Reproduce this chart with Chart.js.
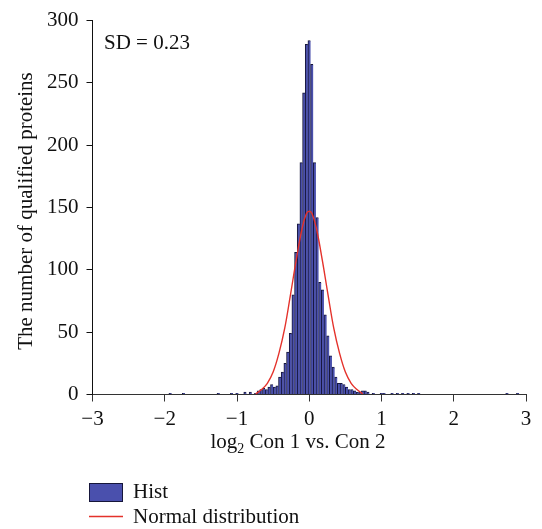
<!DOCTYPE html>
<html>
<head>
<meta charset="utf-8">
<script src="https://cdn.jsdelivr.net/npm/chart.js@4.4.1/dist/chart.umd.min.js"></script>
<style>
  html, body { margin: 0; padding: 0; background: #fff; }
  #wrap { width: 542px; height: 529px; position: relative; }
</style>
</head>
<body>
<div id="wrap"><canvas id="myChart"></canvas></div>
<script>
// histogram bins (centre of each bin, log2 ratio) and protein counts
const binCenters = [
  -1.924, -1.739, -1.258, -1.073, -0.999, -0.888, -0.814,
  -0.740, -0.703, -0.666, -0.629, -0.592, -0.555, -0.518, -0.481, -0.444,
  -0.407, -0.370, -0.333, -0.296, -0.259, -0.222, -0.185, -0.148, -0.111,
  -0.074, -0.037, 0, 0.037, 0.074, 0.111, 0.148, 0.185, 0.222, 0.259,
  0.296, 0.333, 0.370, 0.407, 0.444, 0.481, 0.518, 0.555, 0.592, 0.629,
  0.666, 0.703, 0.740, 0.777, 0.814, 0.888, 0.999, 1.036, 1.147, 1.221,
  1.295, 1.369, 1.443, 1.517, 2.738, 2.886
];
const binCounts = [
  1, 1, 1, 1, 1, 2, 2,
  1, 3, 4, 5, 4, 6, 8, 6, 7,
  14, 18, 25, 34, 49, 80, 114, 137, 186,
  242, 281, 284, 265, 186, 142, 90, 84, 64, 47,
  31, 22, 14, 9, 9, 8, 6, 4, 4, 3,
  2, 2, 3, 3, 2, 1, 1, 1, 1, 1,
  1, 1, 1, 1, 1, 1
];

// fitted normal curve
const curveX = [-0.74, -0.66, -0.58, -0.50, -0.42, -0.34, -0.26, -0.18, -0.10, -0.04, 0,
                0.04, 0.10, 0.18, 0.26, 0.34, 0.42, 0.50, 0.58, 0.66, 0.74];
const curveY = [0.5, 4, 9, 18, 33, 53, 80, 108, 133, 145, 147,
                145, 133, 108, 80, 53, 33, 18, 9, 4, 0.5];

const sdLabel = 'SD = 0.23';
const yTitle = 'The number of qualified proteins';
const legendLabels = ['Hist', 'Normal distribution'];

const FONT = '"Liberation Serif", "Times New Roman", serif';
const FS = 21;
const barFill = '#4a50ad';
const barEdge = '#16163a';
const curveColor = '#e4322b';

const extras = {
  id: 'extras',
  afterDraw(chart) {
    const c = chart.ctx;
    c.save();
    c.fillStyle = '#111';
    c.font = FS + 'px ' + FONT;
    c.textAlign = 'left';
    c.textBaseline = 'alphabetic';
    c.fillText(sdLabel, 104, 49);

    // x title with subscript
    const a = 'log', sub = '2', b = ' Con 1 vs. Con 2';
    const wa = c.measureText(a).width, wb = c.measureText(b).width;
    c.font = '14px ' + FONT;
    const ws = c.measureText(sub).width;
    let x = 298 - (wa + ws + wb) / 2;
    const base = 448;
    c.font = FS + 'px ' + FONT;
    c.fillText(a, x, base); x += wa;
    c.font = '14px ' + FONT;
    c.fillText(sub, x, base + 5); x += ws;
    c.font = FS + 'px ' + FONT;
    c.fillText(b, x, base);

    // y title
    c.save();
    c.translate(26, 211);
    c.rotate(-Math.PI / 2);
    c.textAlign = 'center';
    c.textBaseline = 'middle';
    c.fillText(yTitle, 0, 0);
    c.restore();

    // legend
    c.fillStyle = barFill;
    c.fillRect(89.5, 483.5, 33, 18);
    c.strokeStyle = barEdge;
    c.lineWidth = 1;
    c.strokeRect(89.5, 483.5, 33, 18);
    c.strokeStyle = curveColor;
    c.lineWidth = 1.3;
    c.beginPath();
    c.moveTo(89, 516.5);
    c.lineTo(123, 516.5);
    c.stroke();
    c.fillStyle = '#111';
    c.font = FS + 'px ' + FONT;
    c.fillText(legendLabels[0], 133, 498);
    c.fillText(legendLabels[1], 133, 523);
    c.restore();
  }
};

const ctx = document.getElementById('myChart').getContext('2d');
const myChart = new Chart(ctx, {
  type: 'bar',
  data: {
    datasets: [
      {
        type: 'line',
        label: legendLabels[1],
        data: curveX.map((x, i) => ({ x: x, y: curveY[i] })),
        borderColor: curveColor,
        borderWidth: 1.4,
        pointRadius: 0,
        tension: 0.4,
        fill: false,
        order: 1
      },
      {
        type: 'bar',
        label: legendLabels[0],
        data: binCenters.map((x, i) => ({ x: x, y: binCounts[i] })),
        backgroundColor: barFill,
        borderColor: barEdge,
        borderWidth: { top: 1, left: 1, right: 0, bottom: 0 },
        barPercentage: 1,
        categoryPercentage: 1,
        order: 2
      }
    ]
  },
  options: {
    responsive: true,
    maintainAspectRatio: false,
    animation: false,
    layout: { padding: { top: 16, right: 16, left: 0, bottom: 0 } },
    plugins: { legend: { display: false }, tooltip: { enabled: false } },
    scales: {
      x: {
        type: 'linear',
        offset: false,
        min: -3,
        max: 3,
        ticks: {
          stepSize: 1,
          color: '#111',
          padding: 5,
          font: { family: FONT, size: FS },
          callback: v => String(v).replace('-', '\u2212')
        },
        grid: { drawOnChartArea: false, offset: false, tickLength: 7, color: '#333' },
        border: { color: '#333', width: 1 },
        afterFit: s => { s.height = 134.5; }
      },
      y: {
        min: 0,
        max: 300,
        ticks: {
          stepSize: 50,
          color: '#111',
          padding: 8,
          font: { family: FONT, size: FS }
        },
        grid: { drawOnChartArea: false, tickLength: 6, color: '#111' },
        border: { color: '#111', width: 1 },
        afterFit: s => { s.width = 92.5; }
      }
    }
  },
  plugins: [extras]
});
</script>
</body>
</html>
